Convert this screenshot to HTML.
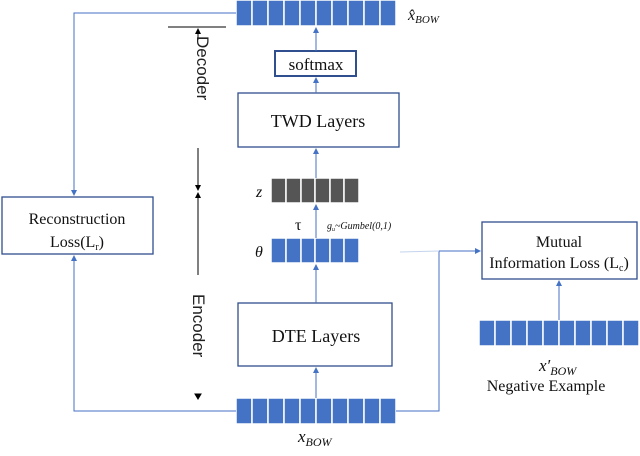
<!DOCTYPE html>
<html><head><style>
body{margin:0;background:#fff}
svg text{font-family:"Liberation Serif",serif}
</style></head><body>
<svg width="640" height="451" viewBox="0 0 640 451" xmlns="http://www.w3.org/2000/svg">
<defs>
<marker id="a" markerWidth="6" markerHeight="6" refX="5" refY="3" orient="auto"><path d="M0,0 L6,3 L0,6z" fill="#4472c4"/></marker>
<marker id="k" markerWidth="6" markerHeight="6" refX="5" refY="3" orient="auto"><path d="M0,0 L6,3 L0,6z" fill="#000"/></marker>
</defs>
<g fill="#4472c4" stroke="#fff" stroke-width="1.5">
<g id="b10"><rect x="236" y="0" width="16" height="26"/><rect x="252" y="0" width="16" height="26"/><rect x="268" y="0" width="16" height="26"/><rect x="284" y="0" width="16" height="26"/><rect x="300" y="0" width="16" height="26"/><rect x="316" y="0" width="16" height="26"/><rect x="332" y="0" width="16" height="26"/><rect x="348" y="0" width="16" height="26"/><rect x="364" y="0" width="16" height="26"/><rect x="380" y="0" width="16" height="26"/></g>
<use href="#b10" y="398"/>
<use href="#b10" x="243" y="320"/>
<g><rect x="271" y="238" width="15" height="25"/><rect x="286" y="238" width="15" height="25"/><rect x="301" y="238" width="14" height="25"/><rect x="315" y="238" width="15" height="25"/><rect x="330" y="238" width="14" height="25"/><rect x="344" y="238" width="15" height="25"/></g>
</g>
<g fill="#555" stroke="#fff" stroke-width="1.5"><rect x="271" y="178" width="15" height="25"/><rect x="286" y="178" width="15" height="25"/><rect x="301" y="178" width="14" height="25"/><rect x="315" y="178" width="15" height="25"/><rect x="330" y="178" width="14" height="25"/><rect x="344" y="178" width="15" height="25"/></g>
<g fill="#fff" stroke="#2f4f8f" stroke-width="1.3">
<rect x="275" y="51" width="81" height="25" stroke-width="2"/>
<rect x="238" y="93" width="161" height="54"/>
<rect x="238" y="303" width="154" height="63"/>
<rect x="2" y="197" width="151" height="57"/>
<rect x="482" y="222" width="155" height="57"/>
</g>
<g stroke="#4472c4" stroke-width="1" fill="none">
<line x1="316" y1="51" x2="316" y2="28" marker-end="url(#a)"/>
<line x1="316" y1="93" x2="316" y2="78" marker-end="url(#a)"/>
<line x1="316" y1="178" x2="316" y2="149" marker-end="url(#a)"/>
<line x1="316" y1="238" x2="316" y2="205" marker-end="url(#a)"/>
<line x1="316" y1="303" x2="316" y2="265" marker-end="url(#a)"/>
<line x1="316" y1="398" x2="316" y2="368" marker-end="url(#a)"/>
<line x1="559" y1="320" x2="559" y2="281" marker-end="url(#a)"/>
<polyline points="236,13 74,13 74,195" marker-end="url(#a)"/>
<polyline points="236,411 74,411 74,256" marker-end="url(#a)"/>
<polyline points="396,411 439,411 439,251 480,251" marker-end="url(#a)"/>
<line x1="400" y1="252" x2="439" y2="251" stroke="#c5d3ec"/>
</g>
<g stroke="#000" stroke-width="1">
<line x1="168" y1="27" x2="226" y2="27"/>
<line x1="198" y1="40" x2="198" y2="29" marker-end="url(#k)"/>
<line x1="198" y1="148" x2="198" y2="190" marker-end="url(#k)"/>
<line x1="198" y1="205" x2="198" y2="193" marker-end="url(#k)"/>
<line x1="198" y1="205" x2="198" y2="275"/>
<path d="M195,394 L201,394 L198,399z" fill="#000"/>
</g>
<text x="192" y="36" font-size="17" transform="rotate(90 192 36) translate(0,-5)" fill="#222" style="font-family:'Liberation Sans',sans-serif">Decoder</text>
<text x="190" y="294" font-size="17" transform="rotate(90 190 294) translate(0,-3)" fill="#222" style="font-family:'Liberation Sans',sans-serif">Encoder</text>
<g font-size="16" fill="#111" text-anchor="middle">
<text x="316" y="70" font-size="17">softmax</text>
<text x="318" y="127" font-size="18">TWD Layers</text>
<text x="316" y="342" font-size="18">DTE Layers</text>
<text x="77" y="224">Reconstruction</text>
<text x="77" y="247">Loss(L<tspan font-size="10" dy="3">r</tspan><tspan dy="-3">)</tspan></text>
<text x="559" y="247">Mutual</text>
<text x="559" y="268">Information Loss (L<tspan font-size="10" dy="3">c</tspan><tspan dy="-3">)</tspan></text>
<text x="546" y="391">Negative Example</text>
</g>
<g font-style="italic" fill="#111">
<text x="408" y="20" font-size="16">x̂<tspan font-size="11" dy="3">BOW</tspan></text>
<text x="256" y="197" font-size="16">z</text>
<text x="255" y="257" font-size="16">θ</text>
<text x="295" y="230" font-size="16" font-style="normal">τ</text>
<text x="327" y="229" font-size="10">g<tspan font-size="6" dy="2">u</tspan><tspan dy="-2">~Gumbel(0,1)</tspan></text>
<text x="298" y="442" font-size="17">x<tspan font-size="12" dy="4">BOW</tspan></text>
<text x="539" y="371" font-size="17">x′<tspan font-size="12" dy="4">BOW</tspan></text>
</g>
</svg>
</body></html>
